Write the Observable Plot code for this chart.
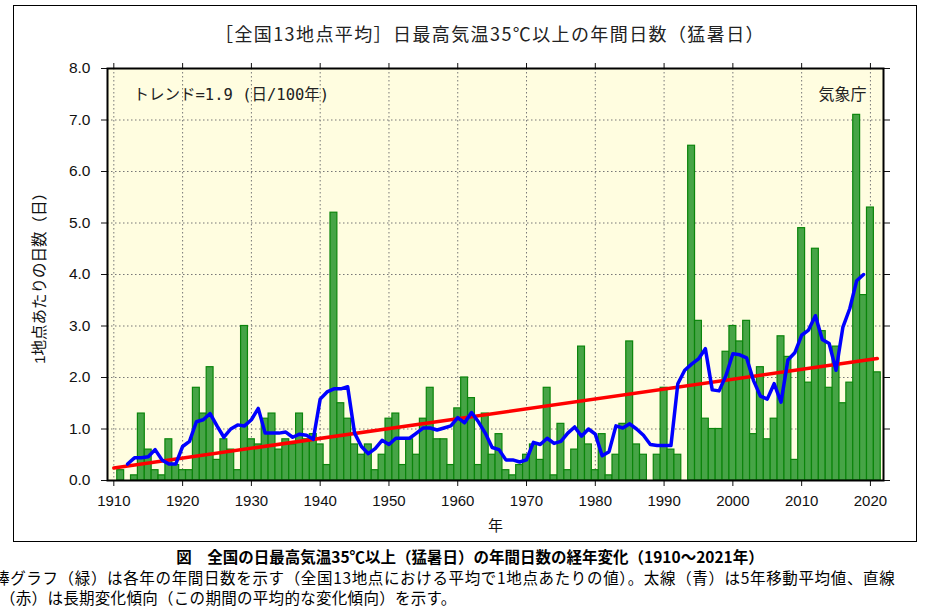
<!DOCTYPE html>
<html>
<head>
<meta charset="utf-8">
<script src="https://cdn.jsdelivr.net/npm/d3@7"></script>
<script src="https://cdn.jsdelivr.net/npm/@observablehq/plot@0.6"></script>
<style>
  html, body { margin: 0; padding: 0; background: #fff; }
  #wrap { position: relative; width: 926px; height: 607px; overflow: hidden; font-family: 'Liberation Sans', 'Noto Sans CJK JP', sans-serif; }
  #box { position: absolute; left: 13px; top: 5px; width: 904px; height: 537px; border: 1px solid #000; box-sizing: border-box; }
  #title { position: absolute; left: 0; width: 980px; top: 20px; text-align: center; font-family: 'Noto Sans CJK JP', sans-serif; font-size: 18px; letter-spacing: 1.4px; color: #222; line-height: 26px; }
  #chart { position: absolute; left: 0; top: 0; }
  #cap1 { position: absolute; left: 0; width: 940px; top: 546px; text-align: center; font-family: 'Noto Sans CJK JP', sans-serif; font-weight: bold; font-size: 15.5px; line-height: 20px; color: #000; }
  #cap2 { position: absolute; left: -6px; top: 568px; white-space: nowrap; font-family: 'Noto Sans CJK JP', sans-serif; font-size: 15.5px; letter-spacing: 0.65px; line-height: 18px; color: #000; }
  #cap3 { position: absolute; left: 0px; top: 588px; white-space: nowrap; font-family: 'Noto Sans CJK JP', sans-serif; font-size: 15.5px; letter-spacing: 0.3px; line-height: 18px; color: #000; }
</style>
</head>
<body>
<div id="wrap">
  <div id="box"></div>
  <div id="chart"></div>
  <div id="title">［全国13地点平均］日最高気温35℃以上の年間日数（猛暑日）</div>
  <div id="cap1">図　全国の日最高気温35℃以上（猛暑日）の年間日数の経年変化（1910～2021年）</div>
  <div id="cap2">棒グラフ（緑）は各年の年間日数を示す（全国13地点における平均で1地点あたりの値）。太線（青）は5年移動平均値、直線</div>
  <div id="cap3">（赤）は長期変化傾向（この期間の平均的な変化傾向）を示す。</div>
</div>
<script>
// ---- data ----
const startYear = 1910;
const values = [
  0.0, 0.2, 0.0, 0.1, 1.3, 0.6, 0.2, 0.1, 0.8, 0.3,   // 1910-1919
  0.2, 0.2, 1.8, 1.3, 2.2, 0.4, 0.8, 0.6, 0.2, 3.0,   // 1920-1929
  0.8, 0.7, 1.2, 1.3, 0.6, 0.8, 0.7, 1.3, 0.8, 0.9,   // 1930-1939
  0.7, 0.3, 5.2, 1.5, 1.2, 0.7, 0.5, 0.7, 0.2, 0.5,   // 1940-1949
  1.2, 1.3, 0.3, 0.8, 0.5, 1.2, 1.8, 0.8, 0.8, 0.3,   // 1950-1959
  1.4, 2.0, 1.6, 0.3, 1.3, 0.5, 0.9, 0.2, 0.1, 0.3,   // 1960-1969
  0.5, 0.7, 0.4, 1.8, 0.1, 1.1, 0.2, 0.6, 2.6, 0.7,   // 1970-1979
  0.2, 0.9, 0.1, 0.5, 1.1, 2.7, 0.7, 0.5, 0.0, 0.5,   // 1980-1989
  1.8, 0.6, 0.5, 0.0, 6.5, 3.1, 1.2, 1.0, 1.0, 2.5,   // 1990-1999
  3.0, 2.7, 3.1, 0.9, 2.2, 0.8, 1.2, 2.8, 2.4, 0.4,   // 2000-2009
  4.9, 1.9, 4.5, 2.9, 1.8, 2.6, 1.5, 1.9, 7.1, 3.6,   // 2010-2019
  5.3, 2.1                                            // 2020-2021
];
const xTicks = [1910, 1920, 1930, 1940, 1950, 1960, 1970, 1980, 1990, 2000, 2010, 2020];
const yTicks = [0, 1, 2, 3, 4, 5, 6, 7, 8];
const trendText = "トレンド=1.9 (日/100年)";
const agencyText = "気象庁";
const yLabel = "1地点あたりの日数（日）";
const xLabel = "年";

const data = values.map((v, i) => ({year: startYear + i, value: v}));

const chart = Plot.plot({
  width: 926,
  height: 545,
  marginLeft: 107,
  marginRight: 43,
  marginTop: 68,
  marginBottom: 65,
  style: {fontFamily: "'Liberation Sans', 'Noto Sans CJK JP', sans-serif", fontSize: "15px", background: "transparent", color: "#111"},
  x: {domain: [1909.08, 2021.9]},
  y: {domain: [0, 8]},
  marks: [
    Plot.frame({fill: "#fffde0", stroke: null}),
    Plot.gridX(xTicks, {stroke: "#777", strokeOpacity: 1, strokeWidth: 1, strokeDasharray: "1.5,2.5"}),
    Plot.gridY(yTicks, {stroke: "#777", strokeOpacity: 1, strokeWidth: 1, strokeDasharray: "1.5,2.5"}),
    Plot.rectY(data, {x1: d => d.year - 0.5, x2: d => d.year + 0.5, y: "value", fill: "#46a446", stroke: "#0b850b", strokeWidth: 1.2}),
    Plot.linearRegressionY(data, {x: "year", y: "value", stroke: "#ff0000", strokeWidth: 3.5, ci: 0}),
    Plot.lineY(data, Plot.windowY({k: 5, anchor: "middle", strict: true}, {x: "year", y: "value", stroke: "#0000ff", strokeWidth: 3.5})),
    Plot.axisX(xTicks, {anchor: "bottom", tickSize: 6, tickPadding: 9, tickFormat: d => String(d), fontSize: 15, label: xLabel, labelAnchor: "center", labelOffset: 50, labelArrow: "none"}),
    Plot.axisX(xTicks, {anchor: "top", tickSize: 6, tickFormat: () => "", label: null}),
    Plot.axisY(yTicks, {anchor: "left", tickSize: 6, tickPadding: 11, tickFormat: d3.format(".1f"), fontSize: 15.5, label: yLabel, labelAnchor: "center", labelOffset: 74, labelArrow: "none"}),
    Plot.axisY(yTicks, {anchor: "right", tickSize: 6, tickFormat: () => "", label: null}),
    Plot.frame({stroke: "#000", strokeWidth: 2, fill: null}),
    Plot.text([trendText], {frameAnchor: "top-left", dx: 26, dy: 20, textAnchor: "start", fontSize: 15.5, fill: "#222", fontFamily: "'DejaVu Sans Mono', 'Noto Sans CJK JP', monospace"}),
    Plot.text([agencyText], {frameAnchor: "top-right", dx: -17, dy: 20, textAnchor: "end", fontSize: 16, fill: "#222", fontFamily: "'Noto Sans CJK JP', sans-serif"})
  ]
});
document.getElementById("chart").appendChild(chart);
</script>
</body>
</html>
